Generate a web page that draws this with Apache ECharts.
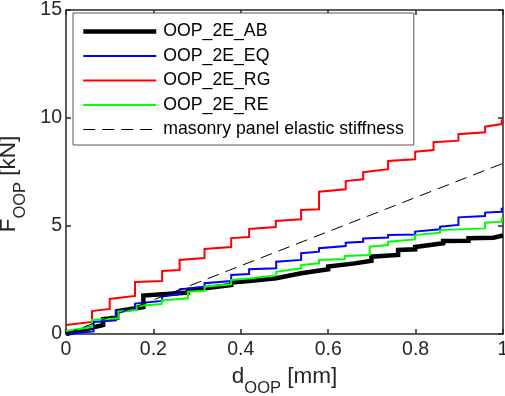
<!DOCTYPE html>
<html>
<head>
<meta charset="utf-8">
<script src="https://cdn.jsdelivr.net/npm/echarts@6/dist/echarts.min.js"></script>
<style>
html,body{margin:0;padding:0;background:#fff;}
#chart{width:505px;height:396px;}
</style>
</head>
<body>
<div id="chart"></div>
<script>
// ---- data ----
var seriesNames = ['OOP_2E_AB', 'OOP_2E_EQ', 'OOP_2E_RG', 'OOP_2E_RE', 'masonry panel elastic stiffness'];
var xTicks = [0, 0.2, 0.4, 0.6, 0.8, 1];
var yTicks = [0, 5, 10, 15];

var abX = [0, 0.085, 0.085, 0.117, 0.117, 0.177, 0.177, 0.279, 0.279, 0.318, 0.318, 0.378, 0.378, 0.419, 0.419, 0.481, 0.481, 0.538, 0.538, 0.600, 0.600, 0.661, 0.661, 0.699, 0.699, 0.760, 0.760, 0.799, 0.799, 0.863, 0.863, 0.921, 0.921, 0.978, 0.978, 1];
var abY = [0, 0.42, 0.69, 0.74, 1.06, 1.25, 1.78, 1.92, 2.04, 2.12, 2.19, 2.27, 2.38, 2.45, 2.52, 2.58, 2.65, 2.81, 2.88, 3.00, 3.12, 3.27, 3.35, 3.39, 3.58, 3.66, 3.89, 3.92, 4.03, 4.20, 4.31, 4.32, 4.43, 4.46, 4.54, 4.56];

var eqX = [0, 0.063, 0.063, 0.114, 0.114, 0.158, 0.158, 0.220, 0.220, 0.260, 0.260, 0.317, 0.317, 0.378, 0.378, 0.419, 0.419, 0.481, 0.481, 0.538, 0.538, 0.579, 0.579, 0.640, 0.640, 0.680, 0.680, 0.737, 0.737, 0.799, 0.799, 0.856, 0.856, 0.898, 0.898, 0.959, 0.959, 0.997, 0.997, 1];
var eqY = [0, 0.12, 0.56, 0.63, 1.06, 1.16, 1.41, 1.53, 1.74, 1.85, 2.07, 2.19, 2.35, 2.45, 2.73, 2.78, 3.00, 3.04, 3.35, 3.43, 3.74, 3.81, 3.97, 4.07, 4.23, 4.27, 4.42, 4.47, 4.58, 4.61, 4.74, 4.85, 4.97, 5.05, 5.40, 5.46, 5.62, 5.66, 5.80, 5.80];

var rgX = [0, 0.0595, 0.0595, 0.100, 0.100, 0.158, 0.158, 0.220, 0.220, 0.260, 0.260, 0.317, 0.317, 0.378, 0.378, 0.419, 0.419, 0.480, 0.480, 0.538, 0.538, 0.579, 0.579, 0.640, 0.640, 0.680, 0.680, 0.737, 0.737, 0.799, 0.799, 0.841, 0.841, 0.898, 0.898, 0.959, 0.959, 0.997, 0.997, 1];
var rgY = [0.42, 0.56, 1.06, 1.16, 1.62, 1.76, 2.41, 2.45, 2.92, 2.96, 3.43, 3.52, 3.94, 4.03, 4.44, 4.49, 4.86, 4.95, 5.23, 5.31, 5.74, 5.77, 6.59, 6.70, 7.08, 7.16, 7.49, 7.63, 8.01, 8.09, 8.44, 8.52, 8.88, 8.95, 9.25, 9.34, 9.60, 9.72, 9.90, 9.90];

var reX = [0, 0.0595, 0.0595, 0.120, 0.120, 0.162, 0.162, 0.219, 0.219, 0.279, 0.279, 0.317, 0.317, 0.378, 0.378, 0.419, 0.419, 0.481, 0.481, 0.538, 0.538, 0.579, 0.579, 0.638, 0.638, 0.695, 0.695, 0.737, 0.737, 0.799, 0.799, 0.856, 0.856, 0.959, 0.959, 0.997, 0.997, 1];
var reY = [0.14, 0.32, 0.65, 0.73, 1.03, 1.11, 1.30, 1.39, 1.55, 1.65, 1.96, 2.00, 2.19, 2.30, 2.50, 2.57, 2.66, 2.71, 2.88, 3.04, 3.19, 3.27, 3.43, 3.47, 3.61, 3.66, 4.04, 4.12, 4.27, 4.38, 4.58, 4.69, 4.81, 4.89, 5.15, 5.20, 5.36, 5.36];

var elX = [0, 1];
var elY = [0, 7.9];

// ---- build ----
function zip(xs, ys) { return xs.map(function (x, i) { return [x, ys[i]]; }); }

var FONT = '"Liberation Sans", Arial, Helvetica, sans-serif';
var AX = '#262626';

var chart = echarts.init(document.getElementById('chart'), null, { renderer: 'canvas' });

function lineSeries(name, xs, ys, color, width, type, z) {
  return {
    name: name, type: 'line', data: zip(xs, ys),
    symbol: 'none', showSymbol: false, smooth: false, animation: false,
    lineStyle: { color: color, width: width, type: type, cap: 'butt', join: 'miter' },
    itemStyle: { color: color },
    z: z, clip: true
  };
}

var hiddenSym = { color: 'rgba(0,0,0,0)', borderColor: 'rgba(0,0,0,0)', borderWidth: 0, opacity: 0 };
var nameRich = {
  a: { fontSize: 22.5, fontFamily: FONT, color: AX },
  b: { fontSize: 16.5, fontFamily: FONT, color: AX, verticalAlign: 'bottom', padding: [0, 0, -9, 0] }
};

var option = {
  backgroundColor: '#fff',
  animation: false,
  textStyle: { fontFamily: FONT },
  grid: { left: 66, right: 2, top: 10, bottom: 62, containLabel: false, outerBoundsMode: 'none' },
  legend: {
    orient: 'vertical', left: 73, top: 13,
    padding: [9.5, 10, 6.5, 8],
    itemWidth: 73, itemHeight: 14, itemGap: 6.5,
    backgroundColor: '#fff', borderColor: '#555555', borderWidth: 1,
    textStyle: { fontFamily: FONT, fontSize: 17.7, color: '#000', lineHeight: 18, padding: [0, 0, 0, 2] },
    itemStyle: hiddenSym,
    data: [
      { name: seriesNames[0], lineStyle: { width: 4.5 }, itemStyle: hiddenSym },
      { name: seriesNames[1], lineStyle: { width: 2 }, itemStyle: hiddenSym },
      { name: seriesNames[2], lineStyle: { width: 2 }, itemStyle: hiddenSym },
      { name: seriesNames[3], lineStyle: { width: 2 }, itemStyle: hiddenSym },
      { name: seriesNames[4], lineStyle: { width: 1 }, itemStyle: hiddenSym }
    ],
    selectedMode: false
  },
  xAxis: [{
    type: 'value', min: xTicks[0], max: xTicks[xTicks.length - 1], interval: 0.2,
    position: 'bottom',
    axisLine: { show: true, onZero: false, lineStyle: { color: AX, width: 1.5 } },
    axisTick: { show: true, inside: true, length: 5, lineStyle: { color: AX, width: 1.5 } },
    axisLabel: { show: true, margin: 6, fontSize: 19.5, color: AX, fontFamily: FONT },
    splitLine: { show: false },
    name: '{a|d}{b|OOP}{a| [mm]}', nameLocation: 'middle', nameGap: 27,
    nameTextStyle: { color: AX, rich: nameRich }
  }, {
    type: 'value', min: xTicks[0], max: xTicks[xTicks.length - 1], interval: 0.2,
    position: 'top',
    axisLine: { show: true, onZero: false, lineStyle: { color: AX, width: 1.5 } },
    axisTick: { show: true, inside: true, length: 5, lineStyle: { color: AX, width: 1.5 } },
    axisLabel: { show: false }, splitLine: { show: false }
  }],
  yAxis: [{
    type: 'value', min: yTicks[0], max: yTicks[yTicks.length - 1], interval: 5,
    position: 'left',
    axisLine: { show: true, onZero: false, lineStyle: { color: AX, width: 1.5 } },
    axisTick: { show: true, inside: true, length: 5, lineStyle: { color: AX, width: 1.5 } },
    axisLabel: { show: true, margin: 4, fontSize: 19.5, color: AX, fontFamily: FONT },
    splitLine: { show: false },
    name: '{a|F}{b|OOP}{a| [kN]}', nameLocation: 'middle', nameGap: 40, nameRotate: 90,
    nameTextStyle: { color: AX, rich: nameRich, padding: [0, 24, 0, 0] }
  }, {
    type: 'value', min: yTicks[0], max: yTicks[yTicks.length - 1], interval: 5,
    position: 'right',
    axisLine: { show: true, onZero: false, lineStyle: { color: AX, width: 1.5 } },
    axisTick: { show: true, inside: true, length: 5, lineStyle: { color: AX, width: 1.5 } },
    axisLabel: { show: false }, splitLine: { show: false }
  }],
  series: [
    lineSeries(seriesNames[0], abX, abY, '#000000', 4.5, 'solid', 2),
    lineSeries(seriesNames[1], eqX, eqY, '#0000ff', 2, 'solid', 3),
    lineSeries(seriesNames[2], rgX, rgY, '#ff0000', 2, 'solid', 4),
    lineSeries(seriesNames[3], reX, reY, '#00ff00', 2, 'solid', 5),
    lineSeries(seriesNames[4], elX, elY, '#000000', 1, [12, 7], 6)
  ]
};
chart.setOption(option);
</script>
</body>
</html>
